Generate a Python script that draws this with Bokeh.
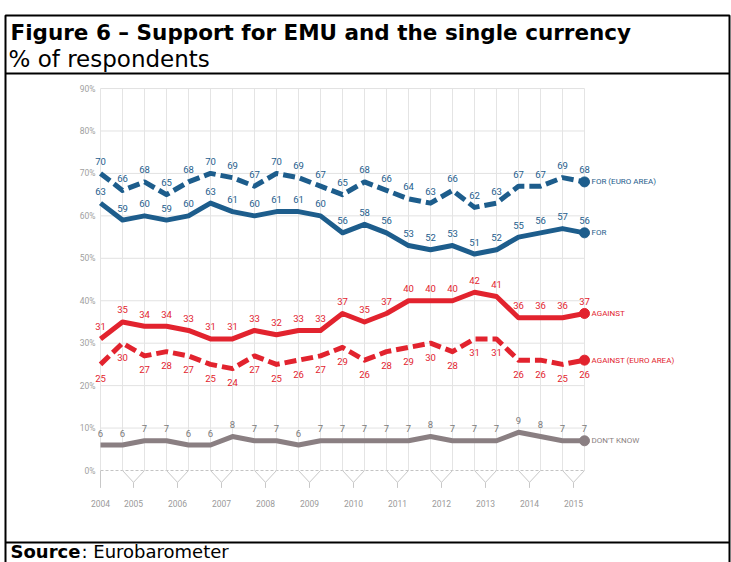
from bokeh.plotting import figure
from bokeh.models import Range1d
from bokeh.core.properties import value
from bokeh.embed import file_html
from bokeh.resources import INLINE

W, H = 731, 562

# ---------------- data ----------------
surveys = list(range(23))  # Eurobarometer survey waves, 2004-2015
for_euro = [70, 66, 68, 65, 68, 70, 69, 67, 70, 69, 67, 65, 68, 66, 64, 63, 66, 62, 63, 67, 67, 69, 68]
for_all = [63, 59, 60, 59, 60, 63, 61, 60, 61, 61, 60, 56, 58, 56, 53, 52, 53, 51, 52, 55, 56, 57, 56]
against = [31, 35, 34, 34, 33, 31, 31, 33, 32, 33, 33, 37, 35, 37, 40, 40, 40, 42, 41, 36, 36, 36, 37]
against_euro = [25, 30, 27, 28, 27, 25, 24, 27, 25, 26, 27, 29, 26, 28, 29, 30, 28, 31, 31, 26, 26, 25, 26]
dont_know = [6, 6, 7, 7, 6, 6, 8, 7, 7, 6, 7, 7, 7, 7, 7, 8, 7, 7, 7, 9, 8, 7, 7]

year_labels = ["2004", "2005", "2006", "2007", "2008", "2009", "2010", "2011", "2012", "2013", "2014", "2015"]
year_pos = [0, 1.5, 3.5, 5.5, 7.5, 9.5, 11.5, 13.5, 15.5, 17.5, 19.5, 21.5]
y_ticks = [0, 10, 20, 30, 40, 50, 60, 70, 80, 90]
y_tick_labels = ["0%", "10%", "20%", "30%", "40%", "50%", "60%", "70%", "80%", "90%"]

series_names = ["FOR (EURO AREA)", "FOR", "AGAINST", "AGAINST (EURO AREA)", "DON'T KNOW"]

# ---------------- layout (pixel geometry) ----------------
X0_PX, DX_PX = 100.0, 22.0       # first wave position, px per wave
Y0_PX, DY_PX = 470.0, 4.244      # 0% position (from top), px per percentage point


def X(px):
    return (px - X0_PX) / DX_PX


def Y(py):
    return (Y0_PX - py) / DY_PX


BLUE = "#1d5d8c"
RED = "#e2232e"
GREY = "#8a7f82"
CHART_FONT = value("Roboto")
TXT_FONT = value("DejaVu Sans")

p = figure(width=W, height=H, output_backend="svg", toolbar_location=None,
           x_range=Range1d(X(0), X(W)), y_range=Range1d(Y(H), Y(0)),
           x_axis_location=None, y_axis_location=None, min_border=0,
           outline_line_color=None, background_fill_color="white")
p.grid.visible = False

n = len(surveys)
last = surveys[-1]

# horizontal grid
p.segment(x0=[surveys[0]] * (len(y_ticks) - 1), x1=[last] * (len(y_ticks) - 1),
          y0=y_ticks[1:], y1=y_ticks[1:], line_color="#e2e2e2", line_width=1)
p.segment(x0=[surveys[0]], x1=[last], y0=[y_ticks[0]], y1=[y_ticks[0]],
          line_color="#c4c4c4", line_width=1, line_dash="3 2")
# vertical grid
p.segment(x0=surveys, x1=surveys, y0=[y_ticks[0]] * n, y1=[y_ticks[-1]] * n,
          line_color="#e4e4e4", line_width=1)

# x-axis brackets
apex, stem = -2.8, -4.1
p.segment(x0=[year_pos[0]], x1=[year_pos[0]], y0=[0], y1=[stem], line_color="#c8c8c8", line_width=1)
for xp in year_pos[1:]:
    p.line([xp - 0.5, xp, xp + 0.5], [0, apex, 0], line_color="#c8c8c8", line_width=1)
    p.segment(x0=[xp], x1=[xp], y0=[apex], y1=[stem], line_color="#c8c8c8", line_width=1)
p.text(x=year_pos, y=[Y(503)] * len(year_pos), text=year_labels, text_font=CHART_FONT,
       text_font_size="8.5px", text_color="#9a9a9a", text_align="center", text_baseline="middle")

# y tick labels
p.text(x=[X(95)] * len(y_ticks), y=y_ticks, text=y_tick_labels, text_font=CHART_FONT,
       text_font_size="8.5px", text_color="#a0a0a0", text_align="right", text_baseline="middle")

# series
spec = [
    (for_euro, BLUE, "12 5", -12, BLUE),
    (for_all, BLUE, None, -12, BLUE),
    (against, RED, None, -12, RED),
    (against_euro, RED, "12 5", 14, RED),
    (dont_know, GREY, None, -12, "#7a7a7a"),
]
for (vals, col, dash, off, lcol), name in zip(spec, series_names):
    kw = {}
    if dash:
        kw["line_dash"] = dash
    p.line(surveys, vals, line_color=col, line_width=5, line_join="round", **kw)
    p.scatter([last], [vals[-1]], size=10, color=col)
    p.text(x=surveys, y=vals, text=[str(v) for v in vals], y_offset=off,
           text_font=CHART_FONT, text_font_size="9.5px", text_color=lcol,
           text_align="center", text_baseline="middle")
    p.text(x=[last], y=[vals[-1]], text=[name], x_offset=7, text_font=CHART_FONT,
           text_font_size="8px", text_color=col, text_align="left", text_baseline="middle")

# frame / boxes
p.line([X(5), X(5), X(729), X(729)], [Y(H + 10), Y(15), Y(15), Y(H + 10)],
       line_color="black", line_width=2)
p.segment(x0=[X(5), X(5)], x1=[X(729), X(729)], y0=[Y(73), Y(542)], y1=[Y(73), Y(542)],
          line_color="black", line_width=2)

# titles
p.text(x=[X(10)], y=[Y(32)], text=["Figure 6 \u2013 Support for EMU and the single currency"],
       text_font=TXT_FONT, text_font_style="bold", text_font_size="21.5px",
       text_color="black", text_baseline="middle")
p.text(x=[X(8)], y=[Y(58)], text=["% of respondents"], text_font=TXT_FONT,
       text_font_size="23px", text_color="black", text_baseline="middle")
p.text(x=[X(10)], y=[Y(551)], text=["Source"], text_font=TXT_FONT, text_font_style="bold",
       text_font_size="18px", text_color="black", text_baseline="middle")
p.text(x=[X(10)], y=[Y(551)], text=[": Eurobarometer"], x_offset=71, text_font=TXT_FONT,
       text_font_size="18px", text_color="black", text_baseline="middle")

open("out.html", "w").write(file_html(p, INLINE))
